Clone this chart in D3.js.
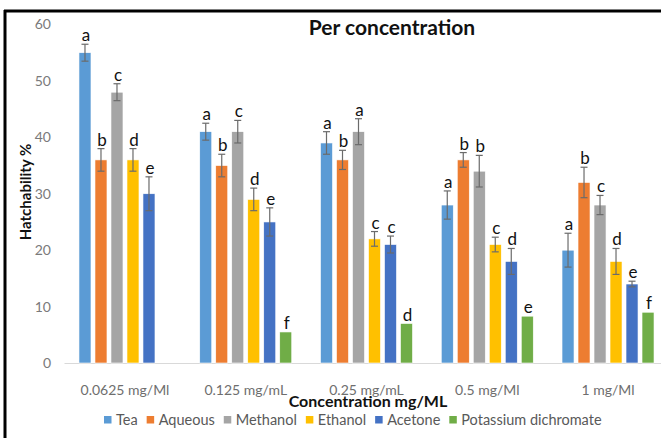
<!DOCTYPE html>
<html>
<head>
<meta charset="utf-8">
<script src="https://cdn.jsdelivr.net/npm/d3@7"></script>
<style>
  body { margin: 0; background: #fff; }
  svg { display: block; font-family: Lato, "Open Sans", sans-serif; }
</style>
</head>
<body>
<div id="chart"></div>
<script>
// categories and series
const groups = ["0.0625 mg/Ml", "0.125 mg/mL", "0.25 mg/mL", "0.5 mg/Ml", "1 mg/Ml"];
const seriesNames = ["Tea", "Aqueous", "Methanol", "Ethanol", "Acetone", "Potassium dichromate"];
const colors = ["#5b9bd5", "#ed7d31", "#a5a5a5", "#ffc000", "#4472c4", "#70ad47"];

const tea = [55, 41, 39, 28, 20];
const aqueous = [36, 35, 36, 36, 32];
const methanol = [48, 41, 41, 34, 28];
const ethanol = [36, 29, 22, 21, 18];
const acetone = [30, 25, 21, 18, 14];
const potassium = [0, 5.5, 7, 8.3, 9];

const teaErr = [1.5, 1.5, 2, 2.5, 3];
const aqueousErr = [2, 2, 1.7, 1.3, 2.7];
const methanolErr = [1.5, 2, 2.3, 2.8, 1.7];
const ethanolErr = [2, 2, 1.3, 1.3, 2.3];
const acetoneErr = [3, 2.5, 1.5, 2.3, 0.5];
const potassiumErr = [0, 0, 0, 0, 0];

const teaLetters = ["a", "a", "a", "a", "a"];
const aqueousLetters = ["b", "b", "b", "b", "b"];
const methanolLetters = ["c", "c", "a", "b", "c"];
const ethanolLetters = ["d", "d", "c", "c", "d"];
const acetoneLetters = ["e", "e", "c", "d", "e"];
const potassiumLetters = ["", "f", "d", "e", "f"];

const yTicks = [0, 10, 20, 30, 40, 50, 60];

const values = [tea, aqueous, methanol, ethanol, acetone, potassium];
const errs = [teaErr, aqueousErr, methanolErr, ethanolErr, acetoneErr, potassiumErr];
const letters = [teaLetters, aqueousLetters, methanolLetters, ethanolLetters, acetoneLetters, potassiumLetters];

const width = 661, height = 438;

const svg = d3.select("#chart").append("svg")
    .attr("width", width)
    .attr("height", height);

// frame (only left and top edges show)
svg.append("line").attr("x1", 5).attr("x2", 5).attr("y1", 10).attr("y2", height)
    .attr("stroke", "#000").attr("stroke-width", 3);
svg.append("line").attr("x1", 4).attr("x2", width).attr("y1", 11).attr("y2", 11)
    .attr("stroke", "#000").attr("stroke-width", 3);

const x0 = d3.scaleBand()
    .domain(groups)
    .range([64.6, 668.4]);

const inner = 96;
const x1 = d3.scaleBand()
    .domain(seriesNames)
    .range([(x0.bandwidth() - inner) / 2, (x0.bandwidth() + inner) / 2])
    .paddingInner(0.25)
    .paddingOuter(0.125);

const y = d3.scaleLinear()
    .domain([0, 60])
    .range([363, 24.5]);

// y axis labels
const yAxis = svg.append("g")
    .attr("transform", "translate(55,0)")
    .call(d3.axisLeft(y).tickValues(yTicks).tickSize(0).tickPadding(4));
yAxis.select(".domain").remove();
yAxis.selectAll("text")
    .attr("font-family", "Lato, sans-serif")
    .attr("font-size", 14)
    .attr("fill", "#7a7a7a");

// x axis
const xAxis = svg.append("g")
    .attr("transform", "translate(0,363)")
    .call(d3.axisBottom(x0).tickSize(0).tickPadding(19));
xAxis.select(".domain").attr("stroke", "#d9d9d9").attr("d", "M64.5,0.5H661");
xAxis.selectAll("text")
    .attr("font-family", "Lato, sans-serif")
    .attr("font-size", 14)
    .attr("dy", "0.95em")
    .attr("fill", "#6e6e6e");

const rows = [];
groups.forEach((g, gi) => {
  seriesNames.forEach((s, si) => {
    rows.push({group: g, series: s, si: si,
      value: values[si][gi], err: errs[si][gi], letter: letters[si][gi]});
  });
});

const barG = svg.append("g");

barG.selectAll(".bar")
    .data(rows.filter(d => d.value > 0))
    .enter().append("rect")
    .attr("class", "bar")
    .attr("x", d => x0(d.group) + x1(d.series))
    .attr("y", d => y(d.value))
    .attr("width", x1.bandwidth())
    .attr("height", d => y(0) - y(d.value))
    .attr("fill", d => colors[d.si])
    .attr("stroke", "#fff")
    .attr("stroke-width", 0.6);

// error bars
const eb = barG.selectAll(".err")
    .data(rows.filter(d => d.err > 0))
    .enter().append("g")
    .attr("class", "err")
    .attr("stroke", "#6b6b6b")
    .attr("stroke-width", 1.2);

const cx = d => x0(d.group) + x1(d.series) + x1.bandwidth() / 2;
eb.append("line")
    .attr("x1", cx).attr("x2", cx)
    .attr("y1", d => y(d.value - d.err)).attr("y2", d => y(d.value + d.err));
eb.append("line")
    .attr("x1", d => cx(d) - 3.5).attr("x2", d => cx(d) + 3.5)
    .attr("y1", d => y(d.value + d.err)).attr("y2", d => y(d.value + d.err));
eb.append("line")
    .attr("x1", d => cx(d) - 3.5).attr("x2", d => cx(d) + 3.5)
    .attr("y1", d => y(d.value - d.err)).attr("y2", d => y(d.value - d.err));

// significance letters
barG.selectAll(".label")
    .data(rows.filter(d => d.letter))
    .enter().append("text")
    .attr("class", "label")
    .attr("x", d => cx(d) + 1)
    .attr("y", d => y(d.value + d.err) - 3)
    .attr("text-anchor", "middle")
    .attr("font-size", 17)
    .attr("fill", "#111")
    .text(d => d.letter);

// titles
svg.append("text")
    .attr("x", 392).attr("y", 35)
    .attr("text-anchor", "middle")
    .attr("font-size", 21)
    .attr("font-weight", "bold")
    .attr("fill", "#111")
    .text("Per concentration");

svg.append("text")
    .attr("transform", "translate(31,192) rotate(-90)")
    .attr("text-anchor", "middle")
    .attr("font-size", 15)
    .attr("font-weight", "bold")
    .attr("fill", "#111")
    .text("Hatchability %");

svg.append("text")
    .attr("x", 368).attr("y", 407)
    .attr("text-anchor", "middle")
    .attr("font-size", 16)
    .attr("font-weight", "bold")
    .attr("fill", "#111")
    .text("Concentration mg/ML");

// legend
const legend = svg.append("g").attr("transform", "translate(104,420)");
let lx = 0;
seriesNames.forEach((s, i) => {
  const item = legend.append("g").attr("transform", `translate(${lx},0)`);
  item.append("rect").attr("x", 0).attr("y", -4).attr("width", 7.5).attr("height", 7.5)
      .attr("fill", colors[i]);
  const t = item.append("text").attr("x", 12).attr("y", 5)
      .attr("font-size", 14.5).attr("fill", "#595959").text(s);
  lx += 12 + t.node().getComputedTextLength() + 9;
});
</script>
</body>
</html>
